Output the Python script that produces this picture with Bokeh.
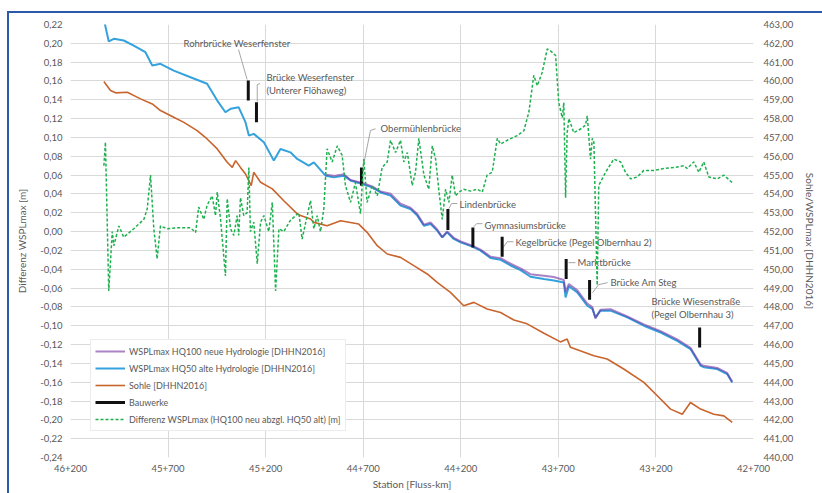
from bokeh.plotting import figure
from bokeh.models import (Range1d, LinearAxis, FixedTicker, Legend, LegendItem,
                          CustomJSTickFormatter)
from bokeh.core.properties import value
from bokeh.embed import file_html
from bokeh.resources import INLINE

FONT = "Lato"
GREY = "#595959"

# ---------------- data (stations in m, elevations in m DHHN2016) ----------------
hq50_station = [46029, 46004, 45978, 45927, 45876, 45816, 45781, 45739, 45671, 45585,
                45500, 45448, 45406, 45380, 45338, 45303, 45286, 45261, 45209, 45158,
                45124, 45073, 45038, 44979, 44953, 44893, 44851, 44799, 44765, 44705,
                44654, 44611, 44560, 44509, 44458, 44423, 44389, 44355, 44321, 44295,
                44270, 44236, 44201, 44141, 44099, 44048, 43996, 43945, 43894, 43843,
                43774, 43723, 43672, 43663, 43646, 43603, 43552, 43526, 43510, 43484,
                43433, 43347, 43262, 43176, 43091, 43023, 42971, 42955, 42886, 42835, 42809]
hq50_wspl = [463.27, 462.10, 462.24, 462.15, 461.88, 461.53, 460.82, 460.91, 460.55, 460.20,
             459.85, 458.96, 458.34, 458.52, 458.60, 457.80, 457.10, 457.19, 456.74, 455.77,
             456.39, 456.21, 455.86, 455.50, 455.68, 454.97, 454.88, 454.97, 454.71, 454.53,
             454.35, 454.08, 453.91, 453.38, 453.20, 452.85, 452.31, 452.40, 452.05, 451.69,
             451.96, 451.61, 451.43, 451.20, 450.99, 450.60, 450.50, 450.20, 449.95, 449.60,
             449.48, 449.40, 449.30, 448.50, 449.10, 448.77, 448.06, 447.90, 447.44, 447.80,
             447.80, 447.44, 447.00, 446.64, 446.20, 445.76, 444.87, 444.80, 444.70, 444.43, 443.98]

hq100_station = [44893, 44851, 44799, 44765, 44705, 44654, 44611, 44560, 44509, 44458,
                 44423, 44389, 44355, 44321, 44295, 44270, 44236, 44201, 44141, 44099,
                 44048, 43996, 43945, 43894, 43843, 43774, 43723, 43672, 43663, 43646,
                 43603, 43552, 43526, 43510, 43484, 43433, 43347, 43262, 43176, 43091,
                 43023, 42971, 42955, 42886, 42835, 42809]
hq100_wspl = [455.02, 454.96, 455.05, 454.74, 454.58, 454.40, 454.13, 454.01, 453.48, 453.27,
              452.93, 452.37, 452.48, 452.11, 451.70, 452.01, 451.67, 451.48, 451.25, 451.04,
              450.67, 450.59, 450.30, 450.05, 449.74, 449.66, 449.59, 449.43, 448.80, 449.22,
              448.88, 448.18, 447.99, 447.39, 447.85, 447.88, 447.50, 447.07, 446.71, 446.27,
              445.83, 444.94, 444.87, 444.76, 444.49, 444.03]

sohle_station = [46029, 45995, 45969, 45909, 45841, 45781, 45739, 45671, 45619, 45551,
                 45500, 45448, 45397, 45371, 45354, 45329, 45303, 45274, 45261, 45226,
                 45166, 45107, 45038, 45021, 44970, 44953, 44885, 44816, 44723, 44680,
                 44628, 44577, 44509, 44441, 44372, 44321, 44253, 44185, 44133, 44065,
                 43996, 43928, 43860, 43774, 43689, 43655, 43638, 43518, 43450, 43365,
                 43262, 43193, 43125, 43065, 43023, 42971, 42903, 42852, 42809]
sohle = [459.97, 459.49, 459.37, 459.40, 459.05, 458.78, 458.43, 458.07, 457.80, 457.36,
         456.92, 456.39, 455.68, 455.41, 455.77, 455.41, 455.06, 454.44, 455.15, 454.62,
         454.27, 453.64, 452.94, 452.85, 452.67, 452.49, 452.31, 452.58, 452.40, 451.96,
         451.25, 450.81, 450.63, 450.19, 449.75, 449.30, 448.77, 448.06, 448.24, 447.89,
         447.70, 447.30, 447.10, 446.60, 446.14, 446.29, 445.85, 445.41, 445.23, 444.70,
         443.99, 443.28, 442.57, 442.30, 442.92, 442.57, 442.30, 442.21, 441.86]

diff_station = [46029, 46021, 46004, 45986, 45978, 45952, 45927, 45876, 45824, 45807,
                45790, 45773, 45756, 45739, 45704, 45653, 45585, 45559, 45543, 45517,
                45500, 45474, 45457, 45448, 45431, 45406, 45397, 45380, 45363, 45346,
                45338, 45329, 45312, 45295, 45286, 45278, 45261, 45243, 45226, 45209,
                45184, 45166, 45149, 45132, 45107, 45073, 45030, 45013, 44987, 44970,
                44953, 44936, 44919, 44902, 44885, 44859, 44833, 44808, 44791, 44765,
                44740, 44714, 44697, 44680, 44654, 44628, 44603, 44577, 44560, 44534,
                44509, 44492, 44474, 44449, 44432, 44415, 44389, 44364, 44346, 44329,
                44313, 44295, 44278, 44261, 44244, 44227, 44210, 44185, 44150, 44116,
                44090, 44065, 44039, 44013, 43996, 43962, 43911, 43877, 43851, 43826,
                43808, 43783, 43757, 43740, 43714, 43698, 43680, 43672, 43663, 43655,
                43646, 43621, 43586, 43561, 43552, 43535, 43526, 43518, 43501, 43493,
                43458, 43416, 43381, 43356, 43330, 43296, 43262, 43211, 43159, 43108,
                43057, 43040, 43006, 42980, 42955, 42929, 42886, 42852, 42809]
diff = [0.070, 0.095, -0.063, 0.000, -0.015, 0.006, -0.006, 0.003, 0.013, 0.024,
        0.060, 0.003, -0.029, 0.006, 0.003, 0.004, 0.004, -0.001, 0.026, 0.013,
        0.028, 0.038, 0.017, 0.042, 0.013, -0.047, 0.035, 0.003, -0.004, 0.017,
        -0.004, 0.036, 0.017, 0.020, 0.068, 0.000, 0.010, -0.034, 0.010, 0.017,
        0.000, 0.031, -0.063, 0.003, 0.000, 0.012, 0.020, -0.008, 0.017, 0.033,
        0.003, 0.017, 0.000, 0.024, 0.088, 0.074, 0.091, 0.081, 0.049, 0.031,
        0.052, 0.019, 0.077, 0.031, 0.049, 0.038, 0.068, 0.074, 0.097, 0.084,
        0.097, 0.074, 0.084, 0.049, 0.063, 0.099, 0.060, 0.045, 0.091, 0.077,
        0.045, 0.013, 0.045, 0.031, 0.060, 0.038, 0.042, 0.045, 0.043, 0.045,
        0.042, 0.060, 0.063, 0.099, 0.093, 0.097, 0.102, 0.107, 0.127, 0.166,
        0.155, 0.169, 0.194, 0.192, 0.187, 0.137, 0.121, 0.137, 0.036, 0.105,
        0.120, 0.105, 0.109, 0.113, 0.123, 0.077, 0.099, 0.095, -0.057, 0.049,
        0.063, 0.077, 0.074, 0.063, 0.056, 0.058, 0.065, 0.065, 0.067, 0.068,
        0.070, 0.067, 0.074, 0.063, 0.074, 0.058, 0.056, 0.060, 0.052]

bauwerk_names = ["Rohrbrücke Weserfenster", "Brücke Weserfenster (Unterer Flöhaweg)",
                 "Obermühlenbrücke", "Lindenbrücke", "Gymnasiumsbrücke",
                 "Kegelbrücke (Pegel Olbernhau 2)", "Marktbrücke", "Brücke Am Steg",
                 "Brücke Wiesenstraße (Pegel Olbernhau 3)"]
bauwerk_station = [45289, 45247, 44709, 44266, 44138, 43988, 43660, 43540, 42976]
bauwerk_unten = [458.96, 457.81, 454.44, 452.09, 451.16, 450.67, 449.48, 448.38, 445.84]
bauwerk_oben = [460.02, 458.87, 455.41, 453.20, 452.22, 451.73, 450.54, 449.43, 446.91]

x_ticks = [46200, 45700, 45200, 44700, 44200, 43700, 43200, 42700]
left_ticks = [i / 50 for i in range(-12, 12)]
right_ticks = list(range(440, 464))

# ---------------- annotation layout (label text lines & anchor points) ----------------
label_lines = ["Rohrbrücke Weserfenster", "Brücke Weserfenster", "(Unterer Flöhaweg)",
               "Obermühlenbrücke", "Lindenbrücke", "Gymnasiumsbrücke",
               "Kegelbrücke (Pegel Olbernhau 2)", "Marktbrücke", "Brücke Am Steg",
               "Brücke Wiesenstraße", "(Pegel Olbernhau 3)"]
label_x = [45621, 45196, 45196, 44611, 44206, 44078, 43919, 43602, 43433, 43223, 43223]
label_y = [462.01, 460.20, 459.51, 457.50, 453.43, 452.32, 451.43, 450.35, 449.29, 448.28, 447.61]
leader_xs = [[45339, 45295], [45243, 45243, 45229], [44697, 44663, 44637],
             [44261, 44247, 44217], [44133, 44119, 44089], [43983, 43962, 43930],
             [43648, 43612], [43525, 43494, 43448]]
leader_ys = [[461.67, 460.08], [458.91, 459.81, 459.86], [455.60, 457.37, 457.46],
             [453.22, 453.49, 453.49], [452.26, 452.42, 452.42], [451.15, 451.46, 451.46],
             [450.35, 450.35], [448.75, 449.18, 449.29]]

# ---------------- figure ----------------
p = figure(frame_width=683, frame_height=433,
           x_range=Range1d(46200, 42700), y_range=Range1d(-0.24, 0.22),
           output_backend="svg", toolbar_location=None,
           min_border_left=61, min_border_right=69, min_border_top=11, min_border_bottom=36)
p.extra_y_ranges = {"right": Range1d(440, 463)}
p.outline_line_color = None
p.styles = {"border-left": "2px solid #2B5BA8", "border-top": "2px solid #2B5BA8",
            "margin-top": "11px", "margin-left": "7px"}

comma2 = CustomJSTickFormatter(code="return tick.toFixed(2).replace('.', ',');")
station_fmt = CustomJSTickFormatter(code="""
const k = Math.floor(tick / 1000);
const m = Math.round(tick - k * 1000);
return k + '+' + String(m).padStart(3, '0');
""")

p.xaxis.ticker = FixedTicker(ticks=x_ticks)
p.xaxis.formatter = station_fmt
p.xaxis.axis_label = "Station [Fluss-km]"
p.yaxis.ticker = FixedTicker(ticks=left_ticks)
p.yaxis.formatter = comma2
p.yaxis.axis_label = "Differenz WSPLmax [m]"

right_axis = LinearAxis(y_range_name="right", ticker=FixedTicker(ticks=right_ticks),
                        formatter=CustomJSTickFormatter(code="return tick.toFixed(2).replace('.', ',');"),
                        axis_label="Sohle/WSPLmax [DHHN2016]")
p.add_layout(right_axis, "right")

p.xgrid.ticker = FixedTicker(ticks=x_ticks)
p.ygrid.ticker = FixedTicker(ticks=left_ticks)
for g in (p.xgrid, p.ygrid):
    g.grid_line_color = "#D9D9D9"
    g.grid_line_width = 1

for ax in (p.xaxis[0], p.yaxis[0], right_axis):
    ax.axis_line_color = None
    ax.major_tick_line_color = None
    ax.minor_tick_line_color = None
    ax.major_tick_in = 0
    ax.major_tick_out = 0
    ax.major_label_text_font = FONT
    ax.major_label_text_font_size = "9.5px"
    ax.major_label_text_color = GREY
    ax.axis_label_text_font = FONT
    ax.axis_label_text_font_size = "10px"
    ax.axis_label_text_color = GREY
    ax.axis_label_text_font_style = "normal"

p.xaxis.major_label_standoff = 7
p.xaxis.axis_label_standoff = 3
p.yaxis.major_label_standoff = 8
p.yaxis.axis_label_standoff = 9
right_axis.major_label_standoff = 10
right_axis.axis_label_standoff = 8

# annotations
p.multi_line(leader_xs, leader_ys, y_range_name="right", line_color="#A6A6A6", line_width=1)
p.text(x=label_x, y=label_y, text=label_lines, y_range_name="right",
       text_font=value(FONT), text_font_size="9.5px", text_color=GREY,
       text_align="left", text_baseline="middle")

# series
r_hq50 = p.line(hq50_station, hq50_wspl, y_range_name="right",
                line_color="#35A2DD", line_width=2)
r_hq100 = p.line(hq100_station, hq100_wspl, y_range_name="right",
                 line_color="#7030A0", line_width=2, line_alpha=0.6)
r_sohle = p.line(sohle_station, sohle, y_range_name="right",
                 line_color="#C9642D", line_width=1.6)
r_bw = p.segment(x0=bauwerk_station, y0=bauwerk_unten, x1=bauwerk_station, y1=bauwerk_oben,
                 y_range_name="right", line_color="#111111", line_width=3)
r_diff = p.line(diff_station, diff, line_color="#1DB04E", line_width=1.5, line_dash="3 2")

legend = Legend(items=[
    LegendItem(label="WSPLmax HQ100 neue Hydrologie [DHHN2016]", renderers=[r_hq100]),
    LegendItem(label="WSPLmax HQ50 alte Hydrologie [DHHN2016]", renderers=[r_hq50]),
    LegendItem(label="Sohle [DHHN2016]", renderers=[r_sohle]),
    LegendItem(label="Bauwerke", renderers=[r_bw]),
    LegendItem(label="Differenz WSPLmax (HQ100 neu abzgl. HQ50 alt) [m]", renderers=[r_diff]),
], location=(20, 26))
legend.margin = 0
legend.padding = 4
legend.spacing = 3
legend.glyph_width = 30
legend.glyph_height = 14
legend.label_height = 14
legend.label_standoff = 4
legend.label_text_font = FONT
legend.label_text_font_size = "9px"
legend.label_text_color = GREY
legend.border_line_color = "#D9D9D9"
legend.background_fill_color = "white"
legend.background_fill_alpha = 1
p.add_layout(legend)

open("out.html", "w").write(file_html(p, INLINE))
